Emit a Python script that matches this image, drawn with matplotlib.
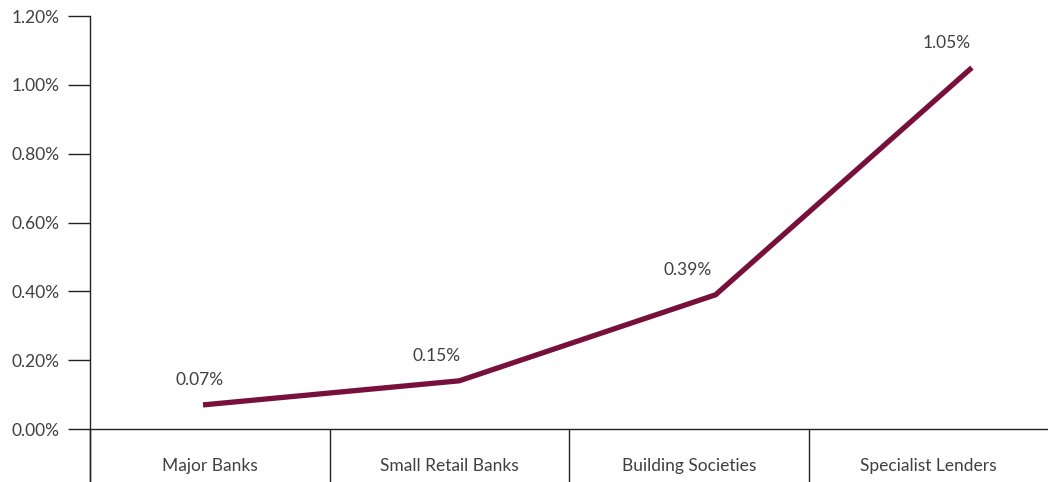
import matplotlib
matplotlib.use("Agg")
import matplotlib.pyplot as plt
from matplotlib.ticker import FixedLocator, FuncFormatter

categories = ["Major Banks", "Small Retail Banks", "Building Societies", "Specialist Lenders"]
values = [0.07, 0.14, 0.39, 1.05]
value_labels = ["0.07%", "0.15%", "0.39%", "1.05%"]
yticks = [0.0, 0.2, 0.4, 0.6, 0.8, 1.0, 1.2]

plt.rcParams['font.family'] = ['Lato', 'DejaVu Sans']
text_color = '#404040'
line_color = '#78103c'
fs = 12.5

fig = plt.figure(figsize=(10.48, 4.82), dpi=100)
ax = fig.add_axes([90/1048, 53/482, 958/1048, 413/482])

n = len(categories)
ax.set_xlim(-0.5, n - 0.5)
ax.set_ylim(0, 1.2)

for s in ['top', 'right']:
    ax.spines[s].set_visible(False)
ax.spines['left'].set_color('#222222')
ax.spines['bottom'].set_color('#222222')
ax.spines['left'].set_linewidth(1.0)
ax.spines['bottom'].set_linewidth(1.0)

ax.yaxis.set_major_locator(FixedLocator(yticks))
ax.yaxis.set_major_formatter(FuncFormatter(lambda v, p: f"{v:.2f}%"))
ax.tick_params(axis='y', length=16, width=1.0, color='#222222', pad=6,
               labelsize=fs, labelcolor=text_color)

# category separators as long ticks below the axis
ax.xaxis.set_major_locator(FixedLocator([i - 0.5 for i in range(n)]))
ax.xaxis.set_major_formatter(FuncFormatter(lambda v, p: ""))
ax.xaxis.set_minor_locator(FixedLocator(list(range(n))))
ax.set_xticklabels(categories, minor=True)
ax.tick_params(axis='x', which='major', length=40, width=1.0, color='#222222', direction='out')
ax.tick_params(axis='x', which='minor', length=0, pad=21, labelsize=fs, labelcolor=text_color)
ax.spines['left'].set_bounds(0, 1.2)

# the y-axis line continues down to the bottom edge
ax.plot([-0.5, -0.5], [0, -0.2], color='#222222', lw=1.0, clip_on=False, solid_capstyle='butt')

# line plotted on a twin axis with its own x range
ax2 = ax.twiny()
ax2.set_xlim(-0.441, 3.297)
ax2.set_ylim(0, 1.2)
ax2.axis('off')
xs = list(range(n))
ax2.plot(xs, values, color=line_color, lw=3.8, solid_capstyle='butt', solid_joinstyle='miter')
offsets = [-3, -23, -28, -25]
for x, v, lab, dx in zip(xs, values, value_labels, offsets):
    ax2.annotate(lab, (x, v), xytext=(dx * 0.72, 18), textcoords='offset points',
                 ha='center', va='center', fontsize=fs, color=text_color)

fig.savefig("out.png", dpi=100)
